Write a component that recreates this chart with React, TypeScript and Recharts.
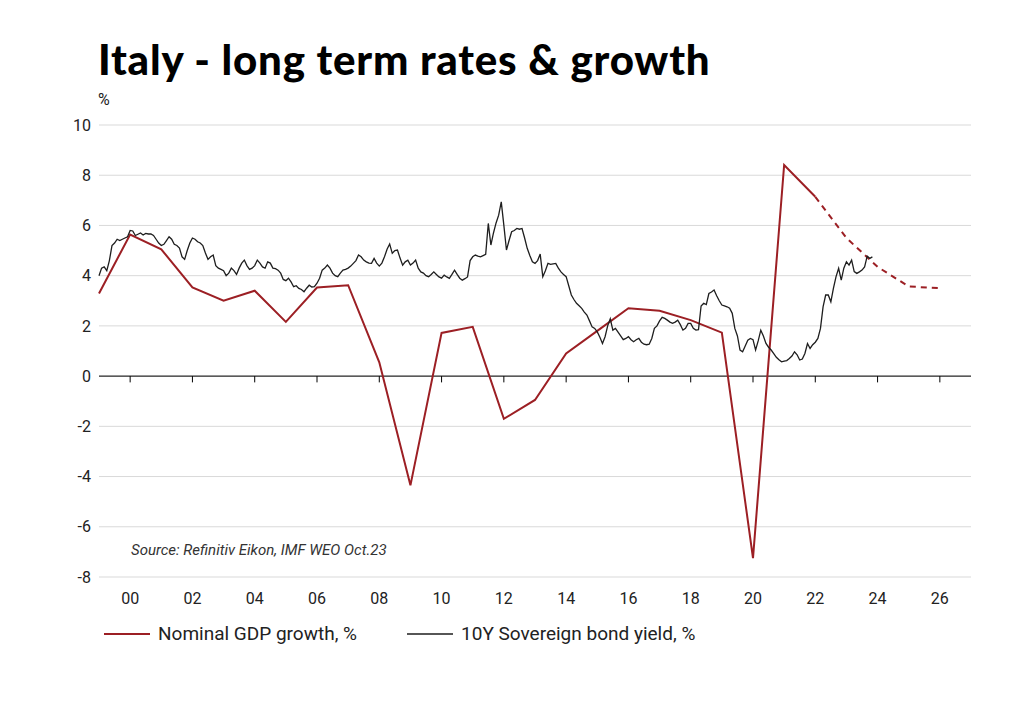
import React from 'react';
import { LineChart, Line, XAxis, YAxis, CartesianGrid, ReferenceLine } from 'recharts';

// Nominal GDP growth, % (annual, actual)
const gdpYears = [1999, 2000, 2001, 2002, 2003, 2004, 2005, 2006, 2007, 2008, 2009, 2010, 2011, 2012, 2013, 2014, 2015, 2016, 2017, 2018, 2019, 2020, 2021, 2022];
const gdpValues = [3.29, 5.64, 5.05, 3.53, 3.0, 3.4, 2.16, 3.53, 3.62, 0.55, -4.35, 1.72, 1.96, -1.7, -0.95, 0.9, 1.8, 2.7, 2.6, 2.23, 1.73, -7.25, 8.41, 7.14];

// IMF WEO Oct.23 forecast (dashed)
const forecastYears = [2022, 2023, 2024, 2025, 2026];
const forecastValues = [7.14, 5.5, 4.35, 3.57, 3.5];

// 10Y Sovereign bond yield, % (monthly, Jan 1999 - Nov 2023)
const bondStartYear = 1999;
const bondValues = [
  4.0, 4.3, 4.35, 4.2, 4.6, 5.2, 5.3, 5.45, 5.4, 5.45, 5.5, 5.55,
  5.8, 5.78, 5.6, 5.65, 5.7, 5.62, 5.68, 5.66, 5.66, 5.6, 5.45, 5.3,
  5.2, 5.25, 5.4, 5.55, 5.45, 5.25, 5.2, 5.1, 4.75, 4.65, 5.0, 5.3,
  5.5, 5.45, 5.35, 5.3, 5.2, 4.9, 4.65, 4.75, 4.82, 4.4, 4.3, 4.25,
  4.2, 4.0, 4.1, 4.3, 4.2, 4.05, 4.3, 4.5, 4.62, 4.4, 4.25, 4.3,
  4.4, 4.62, 4.5, 4.35, 4.3, 4.55, 4.5, 4.3, 4.28, 4.22, 4.1, 3.85,
  3.8, 3.9, 3.75, 3.56, 3.6, 3.49, 3.45, 3.36, 3.5, 3.62, 3.55, 3.56,
  3.7, 3.9, 4.22, 4.3, 4.42, 4.3, 4.1, 4.0, 3.96, 4.1, 4.22, 4.25,
  4.3, 4.38, 4.49, 4.6, 4.82, 4.75, 4.62, 4.55, 4.5, 4.49, 4.69, 4.5,
  4.38, 4.5, 4.75, 5.05, 5.26, 4.89, 5.0, 5.02, 4.7, 4.42, 4.55, 4.62,
  4.42, 4.5, 4.62, 4.3, 4.15, 4.1, 4.0, 3.96, 4.05, 4.15, 4.05, 3.95,
  3.9, 4.02, 3.95, 3.89, 4.05, 4.22, 4.05, 3.9, 3.82, 3.88, 3.95, 4.6,
  4.75, 4.82, 4.78, 4.75, 4.8, 4.85, 6.08, 5.22, 5.7, 6.1, 6.41, 6.94,
  6.0, 5.02, 5.4, 5.75, 5.8, 5.88, 5.85, 5.88, 5.5, 5.09, 4.8, 4.55,
  4.49, 4.6, 4.86, 3.96, 4.2, 4.49, 4.45, 4.47, 4.49, 4.3, 4.15, 4.05,
  3.96, 3.6, 3.23, 3.05, 2.9, 2.8, 2.7, 2.55, 2.43, 2.2, 1.96, 1.9,
  1.76, 1.55, 1.3, 1.57, 2.0, 2.28, 1.83, 1.9, 1.75, 1.6, 1.45, 1.5,
  1.57, 1.45, 1.37, 1.45, 1.5, 1.35, 1.27, 1.25, 1.27, 1.5, 1.9, 2.0,
  2.2, 2.34, 2.3, 2.23, 2.15, 2.1, 2.15, 2.23, 2.05, 1.83, 1.9, 2.1,
  2.1, 1.9, 1.83, 1.85, 2.79, 2.9, 2.85, 3.29, 3.35, 3.43, 3.2, 3.0,
  2.83, 2.8, 2.76, 2.7, 2.5, 1.9, 1.6, 1.04, 0.97, 1.2, 1.43, 1.5,
  1.45, 1.04, 1.4, 1.83, 1.6, 1.3, 1.15, 1.04, 0.9, 0.75, 0.65, 0.57,
  0.6, 0.62, 0.7, 0.8, 0.97, 0.85, 0.64, 0.68, 0.9, 1.3, 1.1, 1.25,
  1.35, 1.5, 1.9, 2.76, 3.23, 3.23, 2.96, 3.5, 3.96, 4.29, 3.82, 4.3,
  4.55, 4.42, 4.62, 4.16, 4.09, 4.15, 4.22, 4.35, 4.78, 4.69, 4.75,
];

const xTicks = [2000, 2002, 2004, 2006, 2008, 2010, 2012, 2014, 2016, 2018, 2020, 2022, 2024, 2026];
const xTickLabels = ['00', '02', '04', '06', '08', '10', '12', '14', '16', '18', '20', '22', '24', '26'];
const yTicks = [-8, -6, -4, -2, 0, 2, 4, 6, 8, 10];

const title = 'Italy - long term rates & growth';
const unitLabel = '%';
const sourceText = 'Source: Refinitiv Eikon, IMF WEO Oct.23';
const gdpName = 'Nominal GDP growth, %';
const bondName = '10Y Sovereign bond yield, %';

const RED = '#9c1f24';
const BLACK = '#1e1e1e';
const FONT = 'Roboto, "Noto Sans", sans-serif';

const gdpData = gdpYears.map((t, i) => ({ t, v: gdpValues[i] }));
const forecastData = forecastYears.map((t, i) => ({ t, v: forecastValues[i] }));
const bondData = bondValues.map((v, i) => ({ t: bondStartYear + i / 12, v }));

const labelFor = (t: number) => {
  const i = xTicks.indexOf(t);
  return i >= 0 ? xTickLabels[i] : String(t);
};

export default function App() {
  return (
    <div style={{ position: 'absolute', left: 0, top: 0, width: 1022, height: 716, background: '#fff', fontFamily: FONT }}>
      <div style={{ position: 'absolute', left: 98, top: 35, fontFamily: 'Lato, sans-serif', fontWeight: 900, fontSize: 42, letterSpacing: 0.8, lineHeight: '48px', color: '#000', whiteSpace: 'nowrap' }}>
        {title}
      </div>
      <div style={{ position: 'absolute', left: 98, top: 90, fontSize: 16, lineHeight: '20px', color: '#222' }}>{unitLabel}</div>
      <LineChart width={1022} height={716} margin={{ top: 125, right: 51, bottom: 109, left: 39 }}>
        <CartesianGrid vertical={false} stroke="#d9d9d9" strokeWidth={1} />
        <XAxis
          dataKey="t"
          type="number"
          domain={[1999, 2027]}
          ticks={xTicks}
          tickFormatter={labelFor}
          axisLine={false}
          tickLine={false}
          height={30}
          tickMargin={10}
          tick={{ fill: '#222', fontSize: 16, fontFamily: FONT }}
          allowDuplicatedCategory={false}
        />
        <YAxis
          type="number"
          domain={[-8, 10]}
          ticks={yTicks}
          axisLine={false}
          tickLine={false}
          width={60}
          tick={{ fill: '#222', fontSize: 16, fontFamily: FONT }}
        />
        <ReferenceLine y={0} stroke="#000" strokeWidth={1} />
        {xTicks.map((t) => (
          <ReferenceLine
            key={'tk' + t}
            segment={[{ x: t, y: 0 }, { x: t, y: -0.25 }]}
            stroke="#000"
            strokeWidth={1}
            ifOverflow="visible"
          />
        ))}
        <Line data={gdpData} dataKey="v" type="linear" stroke={RED} strokeWidth={2} dot={false} isAnimationActive={false} name={gdpName} />
        <Line data={forecastData} dataKey="v" type="linear" stroke={RED} strokeWidth={2} strokeDasharray="6 5" dot={false} isAnimationActive={false} name={gdpName + ' forecast'} />
        <Line data={bondData} dataKey="v" type="linear" stroke={BLACK} strokeWidth={1.3} dot={false} isAnimationActive={false} name={bondName} />
      </LineChart>
      <div style={{ position: 'absolute', left: 131, top: 541, fontSize: 15, fontStyle: 'italic', color: '#333', whiteSpace: 'nowrap' }}>{sourceText}</div>
      <div style={{ position: 'absolute', left: 104, top: 622, display: 'flex', alignItems: 'center', fontSize: 19, color: '#222', whiteSpace: 'nowrap' }}>
        <svg width={46} height={4} style={{ marginRight: 8 }}><line x1={0} y1={2} x2={46} y2={2} stroke={RED} strokeWidth={2} /></svg>
        <span>{gdpName}</span>
        <svg width={46} height={4} style={{ marginLeft: 50, marginRight: 8 }}><line x1={0} y1={2} x2={46} y2={2} stroke={BLACK} strokeWidth={1.3} /></svg>
        <span>{bondName}</span>
      </div>
    </div>
  );
}
